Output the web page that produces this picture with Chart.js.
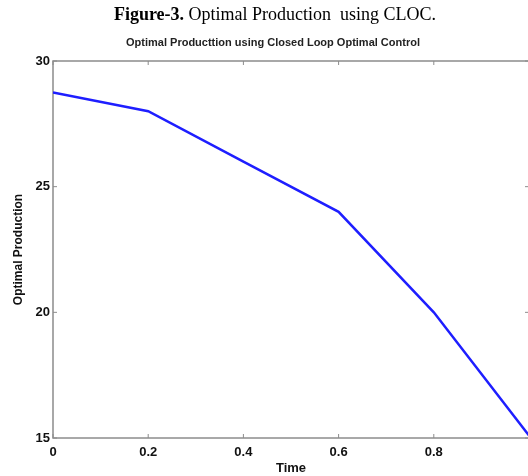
<!DOCTYPE html>
<html>
<head>
<meta charset="utf-8">
<script src="https://cdn.jsdelivr.net/npm/chart.js@4/dist/chart.umd.min.js"></script>
<style>
body { margin: 0; overflow: hidden; background: #fff; }
#wrap { position: relative; width: 536px; height: 476px; }
#caption {
    position: absolute; top: 4px; left: 20px; width: 510px;
    text-align: center; font-family: "Liberation Serif", serif;
    font-size: 18px; color: #000; white-space: pre;
}
</style>
</head>
<body>
<div id="wrap">
    <canvas id="prodChart" width="536" height="476"></canvas>
    <div id="caption"><b>Figure-3.</b> Optimal Production  using CLOC.</div>
</div>
<script>
const timePoints = [0, 0.2, 0.4, 0.6, 0.8, 1.0];
const productionValues = [28.75, 28.0, 26.0, 24.0, 20.0, 15.1];
const xTickValues = [0, 0.2, 0.4, 0.6, 0.8, 1];
const yTickValues = [15, 20, 25, 30];
const plotTitle = 'Optimal Producttion using Closed Loop Optimal Control';

const frameColor = '#8c8c8c';
const labelFont = { family: 'Liberation Sans', size: 13, weight: 'bold' };

// MATLAB style box with inward ticks
const boxPlugin = {
    id: 'matlabBox',
    beforeDatasetsDraw(chart) {
        const { ctx, chartArea: a, scales } = chart;
        ctx.save();
        ctx.strokeStyle = frameColor;
        ctx.lineWidth = 1.5;
        ctx.strokeRect(a.left, a.top, a.right - a.left, a.bottom - a.top);
        ctx.lineWidth = 1;
        xTickValues.forEach(v => {
            const x = scales.x.getPixelForValue(v);
            ctx.beginPath();
            ctx.moveTo(x, a.bottom); ctx.lineTo(x, a.bottom - 4);
            ctx.moveTo(x, a.top); ctx.lineTo(x, a.top + 4);
            ctx.stroke();
        });
        yTickValues.forEach(v => {
            const y = scales.y.getPixelForValue(v);
            ctx.beginPath();
            ctx.moveTo(a.left, y); ctx.lineTo(a.left + 4, y);
            ctx.moveTo(a.right, y); ctx.lineTo(a.right - 4, y);
            ctx.stroke();
        });
        ctx.restore();
    },
    afterDraw(chart) {
        const { ctx } = chart;
        ctx.save();
        ctx.font = 'bold 11px "Liberation Sans"';
        ctx.fillStyle = '#222';
        ctx.textAlign = 'center';
        ctx.textBaseline = 'middle';
        ctx.fillText(plotTitle, 273, 43);
        ctx.restore();
    }
};

new Chart(document.getElementById('prodChart'), {
    type: 'line',
    data: {
        labels: timePoints,
        datasets: [{
            label: 'Optimal Production',
            data: timePoints.map((t, i) => ({ x: t, y: productionValues[i] })),
            borderColor: 'rgb(30, 30, 255)',
            borderWidth: 2.5,
            pointRadius: 0,
            fill: false,
            tension: 0
        }]
    },
    options: {
        responsive: false,
        animation: false,
        layout: { padding: { top: 61, left: 0, right: 0, bottom: 0 } },
        plugins: {
            legend: { display: false },
            tooltip: { enabled: false }
        },
        scales: {
            x: {
                type: 'linear',
                min: 0,
                max: 1,
                afterBuildTicks: s => { s.ticks = xTickValues.map(v => ({ value: v })); },
                afterFit: s => { s.height = 38; },
                grid: { display: false, drawTicks: false },
                border: { display: false },
                ticks: {
                    color: '#111',
                    font: labelFont,
                    padding: 7,
                    maxRotation: 0,
                    callback: v => (v === 1 ? '' : String(Math.round(v * 10) / 10))
                },
                title: {
                    display: true,
                    text: 'Time',
                    color: '#111',
                    font: labelFont,
                    padding: { top: 0, bottom: 0 }
                }
            },
            y: {
                min: 15,
                max: 30,
                afterBuildTicks: s => { s.ticks = yTickValues.map(v => ({ value: v })); },
                afterFit: s => { s.width = 53; },
                grid: { display: false, drawTicks: false },
                border: { display: false },
                ticks: {
                    color: '#111',
                    font: labelFont,
                    padding: 3
                },
                title: {
                    display: true,
                    text: 'Optimal Production',
                    color: '#111',
                    font: { family: 'Liberation Sans', size: 12, weight: 'bold' },
                    padding: { top: 11, bottom: 0 }
                }
            }
        }
    },
    plugins: [boxPlugin]
});
</script>
</body>
</html>
